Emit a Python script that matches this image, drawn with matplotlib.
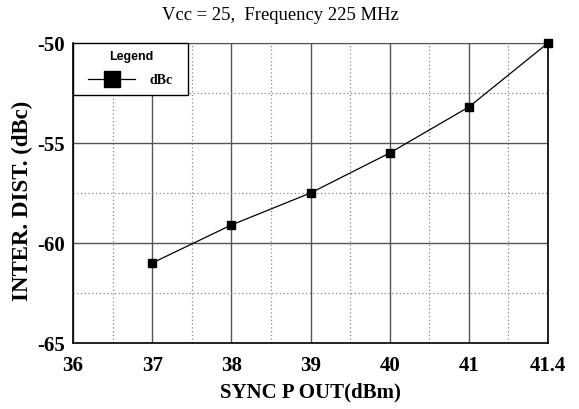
import matplotlib.pyplot as plt
from matplotlib.lines import Line2D
from matplotlib.patches import Rectangle

# Data
x_labels = ['36', '37', '38', '39', '40', '41', '41.4']
point_labels = ['37', '38', '39', '40', '41', '41.4']
inter_dist = [-61.0, -59.1, -57.5, -55.5, -53.2, -50.0]

y_ticks = [-65, -60, -55, -50]
y_minor = [-62.5, -57.5, -52.5]

serif = 'Liberation Serif'
sans = 'Liberation Sans'
plt.rcParams['axes.unicode_minus'] = False

W, H = 579, 410
fig = plt.figure(figsize=(W / 100, H / 100), dpi=100)
ax = fig.add_axes([73 / W, 1 - 344 / H, 475 / W, 300 / H])

# x axis is evenly spaced by label, not by value
xpos = [x_labels.index(p) for p in point_labels]
ax.plot(xpos, inter_dist, color='black', lw=0.9, marker='s', ms=6,
        mfc='black', mec='black', zorder=3, clip_on=False)

ax.set_xlim(0, len(x_labels) - 1)
ax.set_ylim(-65, -50)
ax.set_xticks(range(len(x_labels)))
ax.set_xticklabels(x_labels)
ax.set_xticks([i + 0.5 for i in range(len(x_labels) - 1)], minor=True)
ax.set_yticks(y_ticks)
ax.set_yticks(y_minor, minor=True)

ax.grid(which='major', color='#555555', lw=1.0, ls='-')
ax.grid(which='minor', color='#888888', lw=0.9, ls=(0, (1, 2)))
ax.set_axisbelow(True)
ax.tick_params(which='both', length=0)
ax.tick_params(axis='x', pad=9)
ax.tick_params(axis='y', pad=6)
for lbl in ax.get_xticklabels() + ax.get_yticklabels():
    lbl.set_fontfamily(serif)
    lbl.set_fontweight('bold')
    lbl.set_fontsize(15)

for side in ['left', 'bottom', 'right']:
    ax.spines[side].set_color('black')
    ax.spines[side].set_linewidth(1.2)
ax.spines['top'].set_color('#555555')

ax.set_xlabel('SYNC P OUT(dBm)', fontfamily=serif, fontweight='bold',
              fontsize=15, labelpad=4)
ax.set_ylabel('INTER. DIST. (dBc)', fontfamily=serif, fontweight='bold',
              fontsize=16.5)
ax.yaxis.set_label_coords(-0.084, 0.477)
fig.text(280 / W, 1 - 15 / H, 'Vcc = 25,  Frequency 225 MHz',
         fontfamily=serif, fontsize=13.4, ha='center', va='center')

# legend box drawn in figure pixels, like the reference
def fx(px):
    return px / W

def fy(py):
    return 1 - py / H

fig.add_artist(Rectangle((fx(73), fy(96)), 115 / W, 52 / H,
                         transform=fig.transFigure, facecolor='white',
                         edgecolor='black', lw=1.0, zorder=5))
fig.add_artist(Line2D([fx(88), fx(135)], [fy(80), fy(80)],
                      transform=fig.transFigure, color='black', lw=0.9,
                      zorder=6))
fig.add_artist(Line2D([fx(112)], [fy(80)], transform=fig.transFigure,
                      marker='s', ms=12, mfc='black', mec='black',
                      zorder=7))
fig.text(fx(131), fy(57), 'Legend', fontfamily=sans, fontweight='bold',
         fontsize=9, ha='center', va='center', zorder=7)
fig.text(fx(150), fy(81), 'dBc', fontfamily=serif, fontweight='bold',
         fontsize=10, ha='left', va='center', zorder=7)

fig.savefig('out.png', dpi=100)
